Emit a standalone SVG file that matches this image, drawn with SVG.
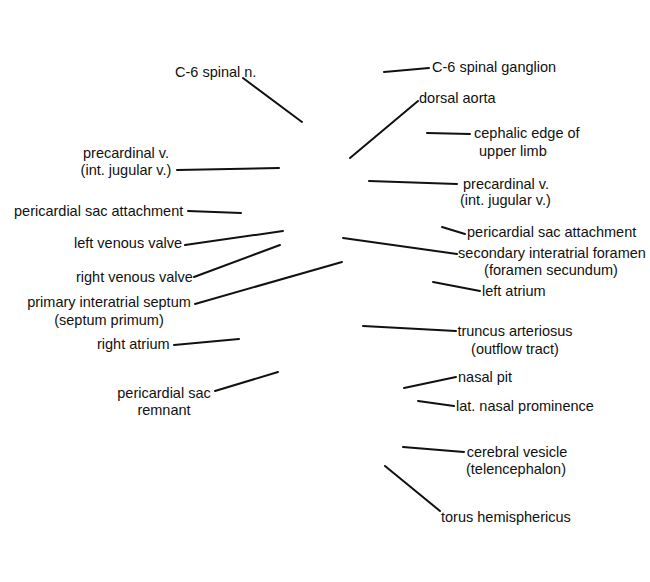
<svg xmlns="http://www.w3.org/2000/svg" width="650" height="582" viewBox="0 0 650 582">
<style>
text{font-family:"Liberation Sans",Arial,sans-serif;font-size:14.5px;fill:#111}
.m{text-anchor:middle}
.e{text-anchor:end}
#connectors line{stroke:#111;stroke-width:2;stroke-linecap:round}
</style>
<rect width="650" height="582" fill="#fff"/>
<g id="connectors">
<line x1="243" y1="78" x2="302" y2="122"/>
<line x1="177" y1="170" x2="279" y2="168"/>
<line x1="188" y1="211" x2="241" y2="213"/>
<line x1="185" y1="245" x2="283" y2="231"/>
<line x1="194" y1="277" x2="280" y2="245"/>
<line x1="195" y1="304" x2="342" y2="262"/>
<line x1="174" y1="345" x2="239" y2="339"/>
<line x1="215" y1="391" x2="278" y2="372"/>
<line x1="384" y1="72" x2="429" y2="68"/>
<line x1="350" y1="158" x2="418" y2="101"/>
<line x1="427" y1="133" x2="470" y2="134"/>
<line x1="369" y1="181" x2="457" y2="184"/>
<line x1="442" y1="227" x2="465" y2="234"/>
<line x1="343" y1="238" x2="457" y2="254"/>
<line x1="433" y1="282" x2="480" y2="291"/>
<line x1="363" y1="326" x2="456" y2="331"/>
<line x1="404" y1="388" x2="456" y2="377"/>
<line x1="418" y1="401" x2="454" y2="406"/>
<line x1="403" y1="447" x2="464" y2="452"/>
<line x1="385" y1="466" x2="440" y2="511"/>
</g>
<g id="c6-spinal-n"><text x="175" y="77">C-6 spinal n.</text></g>
<g id="precardinal-left"><text class="m" x="126" y="158">precardinal v.</text><text class="m" x="126" y="175">(int. jugular v.)</text></g>
<g id="pericardial-sac-attachment-left"><text x="14" y="216">pericardial sac attachment</text></g>
<g id="left-venous-valve"><text x="74" y="248">left venous valve</text></g>
<g id="right-venous-valve"><text x="76" y="282">right venous valve</text></g>
<g id="primary-interatrial-septum"><text class="m" x="109" y="307">primary interatrial septum</text><text class="m" x="109" y="325">(septum primum)</text></g>
<g id="right-atrium"><text x="97" y="349">right atrium</text></g>
<g id="pericardial-sac-remnant"><text class="m" x="164" y="398">pericardial sac</text><text class="m" x="164" y="415">remnant</text></g>
<g id="c6-spinal-ganglion"><text x="432" y="72">C-6 spinal ganglion</text></g>
<g id="dorsal-aorta"><text x="419" y="103">dorsal aorta</text></g>
<g id="cephalic-edge"><text x="474" y="138">cephalic edge of</text><text x="479" y="156">upper limb</text></g>
<g id="precardinal-right"><text x="463" y="189">precardinal v.</text><text x="460" y="205">(int. jugular v.)</text></g>
<g id="pericardial-sac-attachment-right"><text x="467" y="237">pericardial sac attachment</text></g>
<g id="secondary-interatrial-foramen"><text class="m" x="552" y="258">secondary interatrial foramen</text><text class="m" x="551" y="275">(foramen secundum)</text></g>
<g id="left-atrium"><text x="482" y="296">left atrium</text></g>
<g id="truncus-arteriosus"><text class="m" x="515" y="336">truncus arteriosus</text><text class="m" x="515" y="354">(outflow tract)</text></g>
<g id="nasal-pit"><text x="458" y="382">nasal pit</text></g>
<g id="lat-nasal-prominence"><text x="456" y="411">lat. nasal prominence</text></g>
<g id="cerebral-vesicle"><text class="m" x="517" y="457">cerebral vesicle</text><text class="m" x="516" y="474">(telencephalon)</text></g>
<g id="torus-hemisphericus"><text x="441" y="522">torus hemisphericus</text></g>
</svg>
